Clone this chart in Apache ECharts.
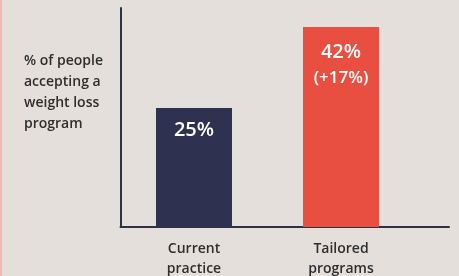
<!DOCTYPE html>
<html><head><meta charset="utf-8">
<script src="https://cdn.jsdelivr.net/npm/echarts@6/dist/echarts.min.js"></script>
<style>
html,body{margin:0;padding:0;background:#e5dfdb;}
#c{width:459px;height:276px;}
#edge{position:absolute;left:0;top:0;width:2px;height:276px;background:#f2b9ae;}
</style></head>
<body><div id="c"></div><div id="edge"></div>
<script>
const categories = ['Current\npractice', 'Tailored\nprograms'];
const values = [25, 42];
const changeLabels = ['', '(+17%)'];
const barColors = ['#2e3250', '#e84f40'];
const yAxisTitle = '% of people\naccepting a\nweight loss\nprogram';

const chart = echarts.init(document.getElementById('c'));
const axisColor = '#2b3246';
const labelDistances = [10, 13];
chart.setOption({
  backgroundColor: '#e5dfdb',
  animation: false,
  title: {
    text: yAxisTitle, left: 19, top: 46,
    textStyle: {fontFamily: 'Open Sans', fontWeight: 600, fontSize: 14, color: '#2e2e2e', lineHeight: 21}
  },
  grid: [
    {left: 120.5, right: 44.5, top: 8, bottom: 49, containLabel: false, outerBoundsMode: 'none'},
    {left: 120.5, right: 10, top: 8, bottom: 49, containLabel: false, outerBoundsMode: 'none'}
  ],
  xAxis: [
    {type: 'category', data: categories, gridIndex: 0,
     axisLine: {show: false}, axisTick: {show: false},
     axisLabel: {margin: 12, fontFamily: 'Open Sans', fontWeight: 600, fontSize: 14, color: '#2e2e2e', lineHeight: 20}},
    {type: 'value', gridIndex: 1, min: 0, max: 1,
     axisLine: {show: true, lineStyle: {color: axisColor, width: 2}},
     axisTick: {show: false}, axisLabel: {show: false}, splitLine: {show: false}}
  ],
  yAxis: [
    {type: 'value', gridIndex: 0, min: 0, max: 46,
     axisLine: {show: true, lineStyle: {color: axisColor, width: 2}},
     axisTick: {show: false}, axisLabel: {show: false}, splitLine: {show: false}},
    {type: 'value', gridIndex: 1, show: false}
  ],
  series: [{
    type: 'bar', xAxisIndex: 0, yAxisIndex: 0, barWidth: 76,
    data: values.map((v, i) => ({value: v, itemStyle: {color: barColors[i]}, label: {distance: labelDistances[i]}})),
    label: {
      show: true, position: 'insideTop',
      fontSize: 17, fontFamily: 'Open Sans', fontWeight: 600, color: '#ffffff',
      formatter: p => changeLabels[p.dataIndex] ? '{a|' + p.value + '%}\n{b|' + changeLabels[p.dataIndex] + '}' : '{a|' + p.value + '%}',
      rich: {
        a: {fontFamily: 'Open Sans', fontWeight: 600, fontSize: 20, color: '#ffffff', lineHeight: 24, align: 'center'},
        b: {fontFamily: 'Open Sans', fontWeight: 600, fontSize: 17, color: '#ffffff', lineHeight: 29, align: 'center'}
      }
    }
  }]
});
</script></body></html>
